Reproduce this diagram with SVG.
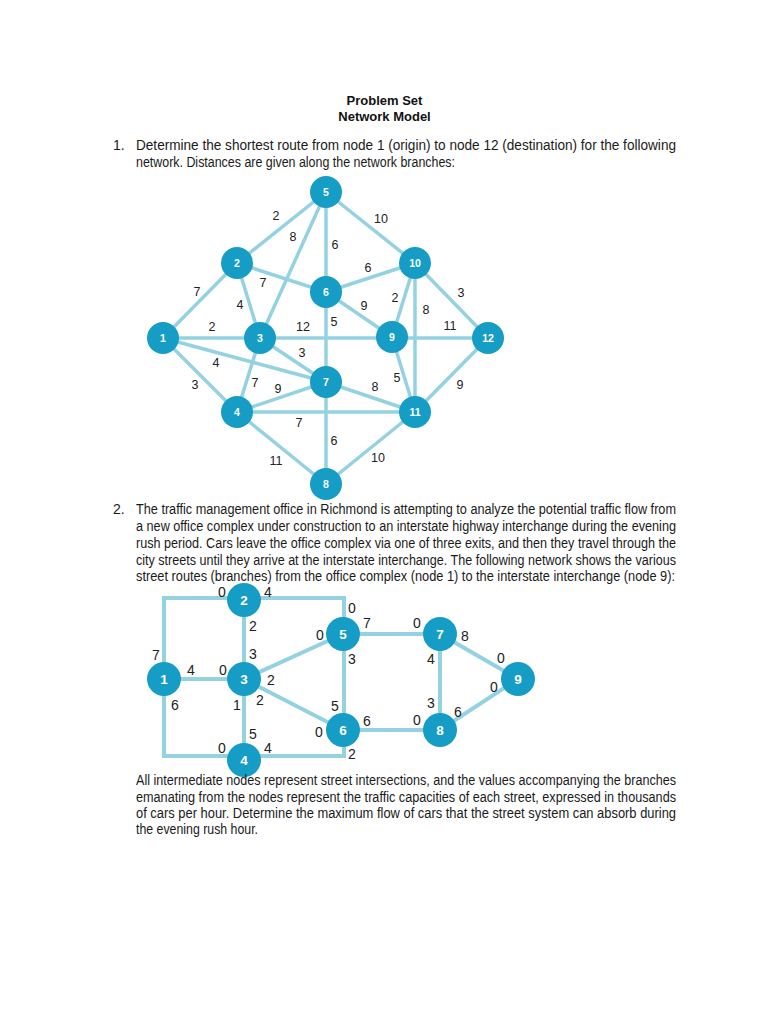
<svg xmlns="http://www.w3.org/2000/svg" width="768" height="1024" viewBox="0 0 768 1024">
<style>
.bg{fill:#ffffff}
.title{font-family:"Liberation Sans Narrow","Liberation Sans",Arial,sans-serif;font-size:13px;font-weight:bold;fill:#111;text-anchor:middle}
.body{font-family:"Liberation Sans Narrow","Liberation Sans",Arial,sans-serif;font-size:14px;fill:#1a1a1a}
.e1{stroke:#94d2e2;stroke-width:3.5;fill:none;stroke-linecap:round}
.e2{stroke:#94d2e2;stroke-width:4;fill:none;stroke-linejoin:miter}
.n{fill:#169dc6}
.nl1{font-family:"Liberation Sans",Arial,sans-serif;font-size:10.5px;font-weight:bold;fill:#ffffff;text-anchor:middle;dominant-baseline:central}
.nl2{font-family:"Liberation Sans",Arial,sans-serif;font-size:13.5px;font-weight:bold;fill:#ffffff;text-anchor:middle;dominant-baseline:central}
.l1{font-family:"Liberation Sans",Arial,sans-serif;font-size:12.5px;fill:#222;text-anchor:middle;dominant-baseline:central}
.l2{font-family:"Liberation Sans",Arial,sans-serif;font-size:14px;fill:#222;text-anchor:middle;dominant-baseline:central}
</style>
<rect class="bg" x="0" y="0" width="768" height="1024"/>

<g id="header">
<text class="title" x="384.5" y="104.5">Problem Set</text>
<text class="title" x="384.5" y="120.5">Network Model</text>
</g>

<g id="para1">
<text class="body" x="113" y="149.5">1.</text>
<text class="body" x="136" y="149.5" textLength="540" lengthAdjust="spacingAndGlyphs">Determine the shortest route from node 1 (origin) to node 12 (destination) for the following</text>
<text class="body" x="136" y="166.5" textLength="319" lengthAdjust="spacingAndGlyphs">network. Distances are given along the network branches:</text>
</g>

<g id="graph1-connectors">
<line class="e1" x1="163" y1="338" x2="237" y2="263"/>
<line class="e1" x1="163" y1="338" x2="488" y2="338"/>
<line class="e1" x1="163" y1="338" x2="326" y2="382"/>
<line class="e1" x1="163" y1="338" x2="237" y2="412"/>
<line class="e1" x1="237" y1="263" x2="326" y2="192"/>
<line class="e1" x1="237" y1="263" x2="260" y2="338"/>
<line class="e1" x1="237" y1="263" x2="326" y2="292"/>
<line class="e1" x1="260" y1="338" x2="326" y2="192"/>
<line class="e1" x1="260" y1="338" x2="326" y2="382"/>
<line class="e1" x1="260" y1="338" x2="237" y2="412"/>
<line class="e1" x1="326" y1="192" x2="326" y2="484"/>
<line class="e1" x1="326" y1="192" x2="415" y2="263"/>
<line class="e1" x1="326" y1="292" x2="415" y2="263"/>
<line class="e1" x1="326" y1="292" x2="392" y2="337"/>
<line class="e1" x1="415" y1="263" x2="392" y2="337"/>
<line class="e1" x1="415" y1="263" x2="415" y2="412"/>
<line class="e1" x1="415" y1="263" x2="488" y2="338"/>
<line class="e1" x1="392" y1="337" x2="415" y2="412"/>
<line class="e1" x1="326" y1="382" x2="237" y2="412"/>
<line class="e1" x1="326" y1="382" x2="415" y2="412"/>
<line class="e1" x1="237" y1="412" x2="415" y2="412"/>
<line class="e1" x1="237" y1="412" x2="326" y2="484"/>
<line class="e1" x1="415" y1="412" x2="488" y2="338"/>
<line class="e1" x1="415" y1="412" x2="326" y2="484"/>
</g>

<g id="graph1-labels">
<text class="l1" x="276" y="216">2</text>
<text class="l1" x="293" y="237">8</text>
<text class="l1" x="335" y="245">6</text>
<text class="l1" x="381" y="219">10</text>
<text class="l1" x="368" y="268">6</text>
<text class="l1" x="197" y="292">7</text>
<text class="l1" x="263" y="283">7</text>
<text class="l1" x="240" y="305">4</text>
<text class="l1" x="364" y="306">9</text>
<text class="l1" x="395" y="298">2</text>
<text class="l1" x="426" y="310">8</text>
<text class="l1" x="461" y="293">3</text>
<text class="l1" x="212" y="327">2</text>
<text class="l1" x="303" y="327">12</text>
<text class="l1" x="334" y="322">5</text>
<text class="l1" x="450" y="326">11</text>
<text class="l1" x="302" y="353">3</text>
<text class="l1" x="216" y="363">4</text>
<text class="l1" x="195" y="385">3</text>
<text class="l1" x="255" y="383">7</text>
<text class="l1" x="278" y="389">9</text>
<text class="l1" x="375" y="387">8</text>
<text class="l1" x="397" y="378">5</text>
<text class="l1" x="460" y="385">9</text>
<text class="l1" x="299" y="423">7</text>
<text class="l1" x="334" y="441">6</text>
<text class="l1" x="276" y="461">11</text>
<text class="l1" x="378" y="458">10</text>
</g>

<g id="g1-node-1"><circle class="n" cx="163" cy="338" r="16"/><text class="nl1" x="163" y="338">1</text></g>
<g id="g1-node-2"><circle class="n" cx="237" cy="263" r="16"/><text class="nl1" x="237" y="263">2</text></g>
<g id="g1-node-3"><circle class="n" cx="260" cy="338" r="16"/><text class="nl1" x="260" y="338">3</text></g>
<g id="g1-node-4"><circle class="n" cx="237" cy="412" r="16"/><text class="nl1" x="237" y="412">4</text></g>
<g id="g1-node-5"><circle class="n" cx="326" cy="192" r="16"/><text class="nl1" x="326" y="192">5</text></g>
<g id="g1-node-6"><circle class="n" cx="326" cy="292" r="16"/><text class="nl1" x="326" y="292">6</text></g>
<g id="g1-node-7"><circle class="n" cx="326" cy="382" r="16"/><text class="nl1" x="326" y="382">7</text></g>
<g id="g1-node-8"><circle class="n" cx="326" cy="484" r="16"/><text class="nl1" x="326" y="484">8</text></g>
<g id="g1-node-9"><circle class="n" cx="392" cy="337" r="16"/><text class="nl1" x="392" y="337">9</text></g>
<g id="g1-node-10"><circle class="n" cx="415" cy="263" r="16"/><text class="nl1" x="415" y="263">10</text></g>
<g id="g1-node-11"><circle class="n" cx="415" cy="412" r="16"/><text class="nl1" x="415" y="412">11</text></g>
<g id="g1-node-12"><circle class="n" cx="488" cy="338" r="16"/><text class="nl1" x="488" y="338">12</text></g>

<g id="para2">
<text class="body" x="113" y="513.5">2.</text>
<text class="body" x="136" y="513.5" textLength="540" lengthAdjust="spacingAndGlyphs">The traffic management office in Richmond is attempting to analyze the potential traffic flow from</text>
<text class="body" x="136" y="530.5" textLength="540" lengthAdjust="spacingAndGlyphs">a new office complex under construction to an interstate highway interchange during the evening</text>
<text class="body" x="136" y="547.5" textLength="540" lengthAdjust="spacingAndGlyphs">rush period. Cars leave the office complex via one of three exits, and then they travel through the</text>
<text class="body" x="136" y="564.5" textLength="540" lengthAdjust="spacingAndGlyphs">city streets until they arrive at the interstate interchange. The following network shows the various</text>
<text class="body" x="136" y="581" textLength="539" lengthAdjust="spacingAndGlyphs">street routes (branches) from the office complex (node 1) to the interstate interchange (node 9):</text>
</g>

<g id="graph2-connectors">
<path class="e2" d="M164,679 V598 H344 V756 H164 Z"/>
<line class="e2" x1="164" y1="679" x2="244" y2="679"/>
<line class="e2" x1="244" y1="600" x2="244" y2="760"/>
<line class="e2" x1="244" y1="679" x2="343" y2="634"/>
<line class="e2" x1="244" y1="679" x2="343" y2="730"/>
<line class="e2" x1="343" y1="634" x2="440" y2="634"/>
<line class="e2" x1="343" y1="730" x2="440" y2="730"/>
<line class="e2" x1="440" y1="634" x2="440" y2="730"/>
<line class="e2" x1="440" y1="634" x2="518" y2="679"/>
<line class="e2" x1="440" y1="730" x2="518" y2="679"/>
</g>

<g id="graph2-labels">
<text class="l2" x="222" y="591.5">0</text>
<text class="l2" x="268" y="591.5">4</text>
<text class="l2" x="253" y="626">2</text>
<text class="l2" x="352" y="608">0</text>
<text class="l2" x="320" y="635">0</text>
<text class="l2" x="367" y="623">7</text>
<text class="l2" x="417" y="623">0</text>
<text class="l2" x="465" y="636">8</text>
<text class="l2" x="156" y="655">7</text>
<text class="l2" x="253" y="654">3</text>
<text class="l2" x="352" y="659">3</text>
<text class="l2" x="431" y="659">4</text>
<text class="l2" x="501" y="658">0</text>
<text class="l2" x="191" y="670">4</text>
<text class="l2" x="223" y="670">0</text>
<text class="l2" x="271" y="680">2</text>
<text class="l2" x="494" y="687">0</text>
<text class="l2" x="175" y="705">6</text>
<text class="l2" x="237" y="705">1</text>
<text class="l2" x="260" y="700">2</text>
<text class="l2" x="335" y="706">5</text>
<text class="l2" x="431" y="703">3</text>
<text class="l2" x="458" y="712">6</text>
<text class="l2" x="367" y="721">6</text>
<text class="l2" x="417" y="720">0</text>
<text class="l2" x="253" y="734">5</text>
<text class="l2" x="319" y="732">0</text>
<text class="l2" x="222" y="748">0</text>
<text class="l2" x="268" y="748">4</text>
<text class="l2" x="352" y="754">2</text>
</g>

<g id="g2-node-1"><circle class="n" cx="164" cy="679" r="17"/><text class="nl2" x="164" y="679">1</text></g>
<g id="g2-node-2"><circle class="n" cx="244" cy="600" r="17"/><text class="nl2" x="244" y="600">2</text></g>
<g id="g2-node-3"><circle class="n" cx="244" cy="679" r="17"/><text class="nl2" x="244" y="679">3</text></g>
<g id="g2-node-4"><circle class="n" cx="244" cy="760" r="17"/><text class="nl2" x="244" y="760">4</text></g>
<g id="g2-node-5"><circle class="n" cx="343" cy="634" r="17"/><text class="nl2" x="343" y="634">5</text></g>
<g id="g2-node-6"><circle class="n" cx="343" cy="730" r="17"/><text class="nl2" x="343" y="730">6</text></g>
<g id="g2-node-7"><circle class="n" cx="440" cy="634" r="17"/><text class="nl2" x="440" y="634">7</text></g>
<g id="g2-node-8"><circle class="n" cx="440" cy="730" r="17"/><text class="nl2" x="440" y="730">8</text></g>
<g id="g2-node-9"><circle class="n" cx="518" cy="679" r="17"/><text class="nl2" x="518" y="679">9</text></g>

<g id="para3">
<text class="body" x="136" y="784.5" textLength="540" lengthAdjust="spacingAndGlyphs">All intermediate nodes represent street intersections, and the values accompanying the branches</text>
<text class="body" x="136" y="801.5" textLength="540" lengthAdjust="spacingAndGlyphs">emanating from the nodes represent the traffic capacities of each street, expressed in thousands</text>
<text class="body" x="136" y="817.5" textLength="540" lengthAdjust="spacingAndGlyphs">of cars per hour. Determine the maximum flow of cars that the street system can absorb during</text>
<text class="body" x="136" y="833.5" textLength="122" lengthAdjust="spacingAndGlyphs">the evening rush hour.</text>
</g>
</svg>
